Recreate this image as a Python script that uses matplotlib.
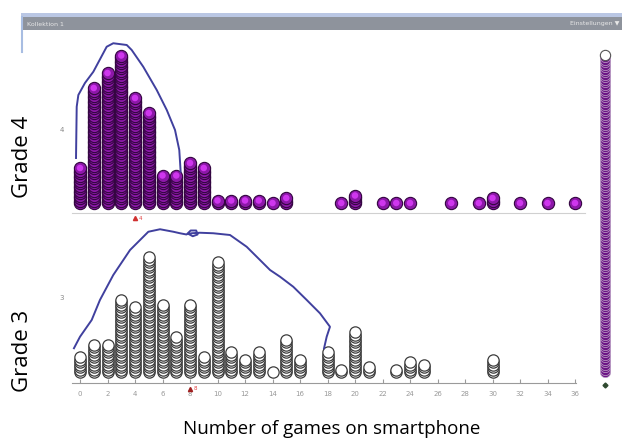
import matplotlib
matplotlib.use('Agg')
import matplotlib.pyplot as plt
import numpy as np
from matplotlib.patches import Rectangle

# number of games on smartphone -> number of pupils (stacked dots)
g4_x = [0, 1, 2, 3, 4, 5, 6, 7, 8, 9, 10, 11, 12, 13, 14, 15,
        19, 20, 22, 23, 24, 27, 29, 30, 32, 34, 36]
g4_n = [15, 47, 53, 60, 43, 37, 12, 12, 17, 15, 2, 2, 2, 2, 1, 3,
        1, 4, 1, 1, 1, 1, 1, 3, 1, 1, 1]

g3_x = [0, 1, 2, 3, 4, 5, 6, 7, 8, 9, 10, 11, 12, 13, 14, 15, 16,
        18, 19, 20, 21, 23, 24, 25, 30]
g3_n = [7, 12, 12, 30, 27, 47, 28, 15, 28, 7, 45, 9, 6, 9, 1, 14, 6,
        9, 2, 17, 3, 2, 5, 4, 6]

g4_median = 4
g3_median = 8
side_n = 128  # cases in the collection column on the right

xticks = list(range(0, 37, 2))

# hand drawn outlines (x in games, y in dot levels)
curve4_x = [-0.29, -0.24, -0.12, 0.36, 0.97, 1.94, 2.42, 3.40, 3.76, 4.60,
            5.58, 6.31, 6.91, 7.22, 7.32]
curve4_y = [18, 38.5, 43.2, 48, 52.5, 62.5, 63.9, 63.2, 61.2, 54.5,
            45.2, 37.2, 29.2, 21.2, 12.5]
curve3_x = [-0.44, 0.0, 0.85, 1.45, 2.42, 3.64, 4.97, 5.82, 6.79, 7.27,
            7.75, 8.05, 8.45, 8.55, 8.2, 7.9, 8.12, 8.73, 9.69, 10.91,
            12.12, 13.09, 13.82, 14.55, 15.51, 16.49, 17.45, 18.18, 17.94, 17.75]
curve3_y = [9.5, 14.1, 20.8, 28.8, 38.8, 48.8, 56.1, 57.1, 56.1, 55.5,
            55.0, 56.6, 56.6, 55.0, 54.3, 55.2, 55.5, 55.7, 55.5, 54.8,
            50.1, 44.8, 40.8, 38.1, 34.1, 28.8, 23.5, 18.1, 14.1, 9.5]

W, H = 622, 441
X0, DX, STEP = 80.0, 13.75, 2.5   # pixel of value 0, pixels per game, pixels per dot


def box(left, top, right, bottom):
    return [left / W, 1 - bottom / H, (right - left) / W, (bottom - top) / H]


fig = plt.figure(figsize=(W / 100, H / 100), dpi=100)
fig.patch.set_facecolor('white')

# window decoration
bg = fig.add_axes([0, 0, 1, 1])
bg.set_xlim(0, W)
bg.set_ylim(H, 0)
bg.axis('off')
bg.add_patch(Rectangle((21, 13), W - 21, 4, color='#bac7e4', lw=0))
bg.add_patch(Rectangle((21, 17), W - 21, 13, color='#8e939c', lw=0))
bg.plot([21.5, 21.5], [17, 52], color='#a8bde2', lw=1.5)
bg.text(27, 24, 'Kollektion 1', color='#e8e8e8', fontsize=4.5, va='center')
bg.text(619, 24, 'Einstellungen \u25bc', color='#e8e8e8', fontsize=4.5,
        va='center', ha='right')

xlim = ((70 - X0) / DX, (590 - X0) / DX)

# grade 4 panel
ax4 = fig.add_axes(box(70, 35, 590, 213))
ax4.set_facecolor('none')
ax4.set_xlim(*xlim)
ax4.set_ylim(-(213 - 203) / STEP, (203 - 35) / STEP)
xs = np.repeat(g4_x, g4_n)
ys = np.concatenate([np.arange(n) for n in g4_n])
ax4.scatter(xs, ys, s=78, facecolor='#8c18a8', edgecolor='#330640', lw=0.8, zorder=3)
ax4.scatter(g4_x, np.array(g4_n) - 1, s=22, facecolor='#cf36ee', edgecolor='none', zorder=4)
ax4.plot(curve4_x, curve4_y, color='#40409e', lw=1.4, clip_on=False, zorder=5)
ax4.plot(g4_median, -6, marker='^', ms=3, color='#d03030', clip_on=False)
ax4.text(g4_median + 0.3, -6, str(g4_median), color='#e04040', fontsize=4,
         va='center', clip_on=False)
ax4.text(-8 / 520, 29.2, '4', transform=ax4.get_yaxis_transform(), color='#888888',
         fontsize=5, ha='center', va='center')

# grade 3 panel
ax3 = fig.add_axes(box(70, 225, 590, 383))
ax3.set_facecolor('none')
ax3.set_xlim(*xlim)
ax3.set_ylim(-(383 - 372) / STEP, (372 - 225) / STEP)
xs = np.repeat(g3_x, g3_n)
ys = np.concatenate([np.arange(n) for n in g3_n])
ax3.scatter(xs, ys, s=66, facecolor='white', edgecolor='#3c3c3c', lw=0.9, zorder=3)
ax3.plot(curve3_x, curve3_y, color='#40409e', lw=1.4, clip_on=False, zorder=5)
ax3.plot(g3_median, -6.8, marker='^', ms=3, color='#a02020', clip_on=False)
ax3.text(g3_median + 0.3, -6.8, str(g3_median), color='#e04040', fontsize=4,
         va='center', clip_on=False)
ax3.text(-8 / 520, 29.6, '3', transform=ax3.get_yaxis_transform(), color='#888888',
         fontsize=5, ha='center', va='center')

for ax in (ax4, ax3):
    for side in ('top', 'right', 'left'):
        ax.spines[side].set_visible(False)
    ax.set_yticks([])

ax4.spines['bottom'].set_color('#d0d0d0')
ax4.spines['bottom'].set_bounds(-0.58, 36.7)
ax4.set_xticks([])

ax3.spines['bottom'].set_color('#9a9a9a')
ax3.spines['bottom'].set_bounds(-0.58, 36.05)
ax3.set_xticks(xticks)
ax3.tick_params(axis='x', direction='in', length=3, width=0.8, color='#9a9a9a',
                labelsize=5, labelcolor='#999999', pad=6)

# collection column on the right
axs = fig.add_axes(box(590, 35, 620, 383))
axs.set_facecolor('none')
axs.set_xlim(-1, 1)
axs.set_ylim(-(383 - 372) / STEP, (372 - 35) / STEP)
axs.axis('off')
axs.scatter(np.zeros(side_n - 1), np.arange(side_n - 1), s=55, facecolor='#6c1585',
            edgecolor='#c2aacb', lw=0.5)
axs.scatter([0], [side_n - 1], s=55, facecolor='white', edgecolor='#555555', lw=0.8)
axs.plot(0, -5.2, marker='D', ms=2.5, color='#2f4a30', clip_on=False)

# labels
fig.text(23 / W, 1 - 157 / H, 'Grade 4', rotation=90, ha='center', va='center',
         fontsize=16, family='Open Sans')
fig.text(23 / W, 1 - 351 / H, 'Grade 3', rotation=90, ha='center', va='center',
         fontsize=16, family='Open Sans')
fig.text(332 / W, 1 - 434 / H, 'Number of games on smartphone', ha='center',
         va='baseline', fontsize=13.5, family='Open Sans')

fig.savefig('out.png', dpi=100)
